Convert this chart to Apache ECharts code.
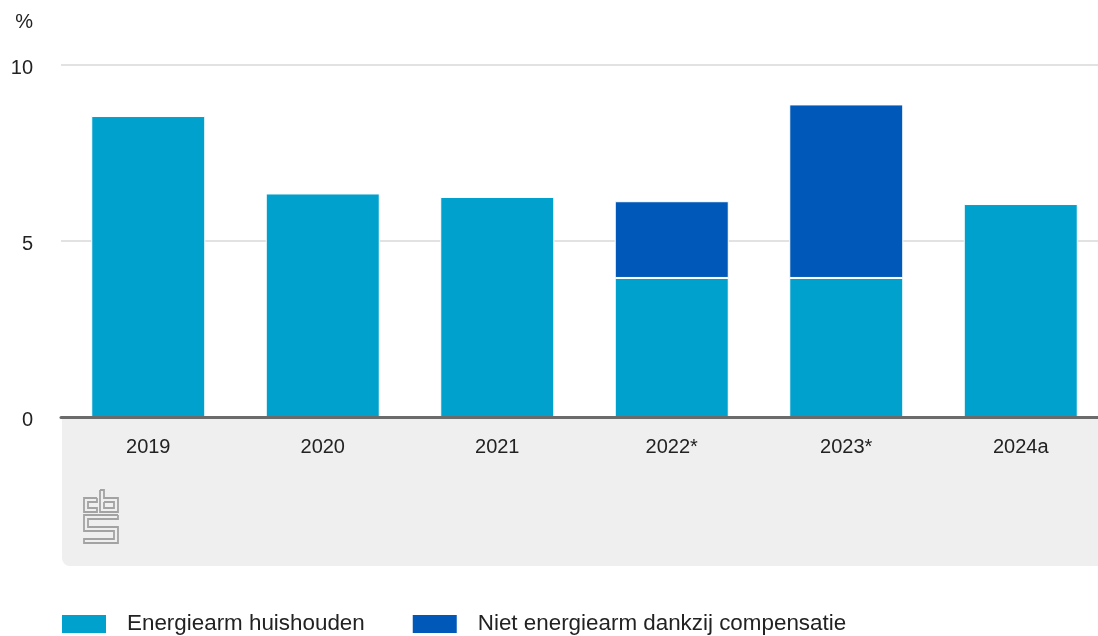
<!DOCTYPE html>
<html>
<head>
<meta charset="utf-8">
<script src="https://cdn.jsdelivr.net/npm/echarts@6/dist/echarts.min.js"></script>
<style>
  html, body { margin: 0; padding: 0; background: #ffffff; overflow: hidden; }
  #chart { width: 1112px; height: 636px; }
</style>
</head>
<body>
<div id="chart"></div>
<script>
// Share of households in energy poverty (%), CBS
const categories = ['2019', '2020', '2021', '2022*', '2023*', '2024a'];
const energiearm = [8.55, 6.35, 6.25, 3.95, 3.95, 6.05];
const compensatie = [null, null, null, 2.18, 4.93, null];
const yTicks = [0, 5, 10];

const FONT = '"Liberation Sans", Arial, sans-serif';
const LIGHT = '#00a1cd';
const DARK = '#0058b8';
const LOGO = '#a3a3a3';

const chart = echarts.init(document.getElementById('chart'), null, { renderer: 'canvas' });

// CBS logo outline: "c", "b" and the maze-like "S"
function logoPaths() {
  return [
    [[97, 498], [84, 498], [84, 512], [97, 512], [97, 508], [88, 508], [88, 502], [97, 502], [97, 498]],
    [[100, 490], [104, 490], [104, 498], [118, 498], [118, 512], [100, 512], [100, 490]],
    [[104, 502], [114, 502], [114, 508], [104, 508], [104, 502]],
    [[118, 515], [84, 515], [84, 531], [114, 531], [114, 539], [84, 539], [84, 543], [118, 543],
     [118, 527], [88, 527], [88, 519], [118, 519], [118, 515]]
  ].map(pts => ({
    type: 'polyline',
    z: 1,
    shape: { points: pts },
    style: { stroke: LOGO, lineWidth: 1.8, fill: null }
  }));
}

chart.setOption({
  animation: false,
  backgroundColor: '#ffffff',
  textStyle: { fontFamily: FONT },
  graphic: [
    {
      type: 'rect',
      z: -10,
      shape: { x: 62, y: 418, width: 1060, height: 148, r: [0, 0, 8, 8] },
      style: { fill: '#efefef' }
    }
  ].concat(logoPaths()),
  grid: { left: 61, top: 65, width: 1047, height: 352, containLabel: false },
  legend: {
    left: 55,
    top: 608,
    itemWidth: 46,
    itemHeight: 20,
    itemGap: 46,
    icon: 'rect',
    textStyle: { fontFamily: FONT, fontSize: 22.4, color: '#222222', padding: [0, 0, 0, 15] },
    data: ['Energiearm huishouden', 'Niet energiearm dankzij compensatie']
  },
  xAxis: {
    type: 'category',
    data: categories,
    axisTick: { show: false },
    axisLine: { show: true, lineStyle: { color: '#6b6b6b', width: 3 } },
    axisLabel: { fontFamily: FONT, fontSize: 20, color: '#222222', margin: 20 },
    z: 5
  },
  yAxis: {
    type: 'value',
    min: yTicks[0],
    max: yTicks[yTicks.length - 1],
    interval: 5,
    name: '%',
    nameLocation: 'end',
    nameGap: 33,
    nameTextStyle: { fontFamily: FONT, fontSize: 20, color: '#222222', align: 'right', padding: [0, 28, 0, 0] },
    axisLine: { show: false },
    axisTick: { show: false },
    axisLabel: { fontFamily: FONT, fontSize: 20, color: '#222222', margin: 28, verticalAlign: 'top', lineHeight: 6 },
    splitLine: { lineStyle: { color: '#d9d9d9', width: 1.5 } }
  },
  series: [
    {
      name: 'Energiearm huishouden',
      type: 'bar',
      stack: 'total',
      barWidth: 114,
      data: energiearm,
      itemStyle: { color: LIGHT, borderColor: '#ffffff', borderWidth: 1 }
    },
    {
      name: 'Niet energiearm dankzij compensatie',
      type: 'bar',
      stack: 'total',
      barWidth: 114,
      data: compensatie,
      itemStyle: { color: DARK, borderColor: '#ffffff', borderWidth: 1 }
    }
  ]
});
</script>
</body>
</html>
